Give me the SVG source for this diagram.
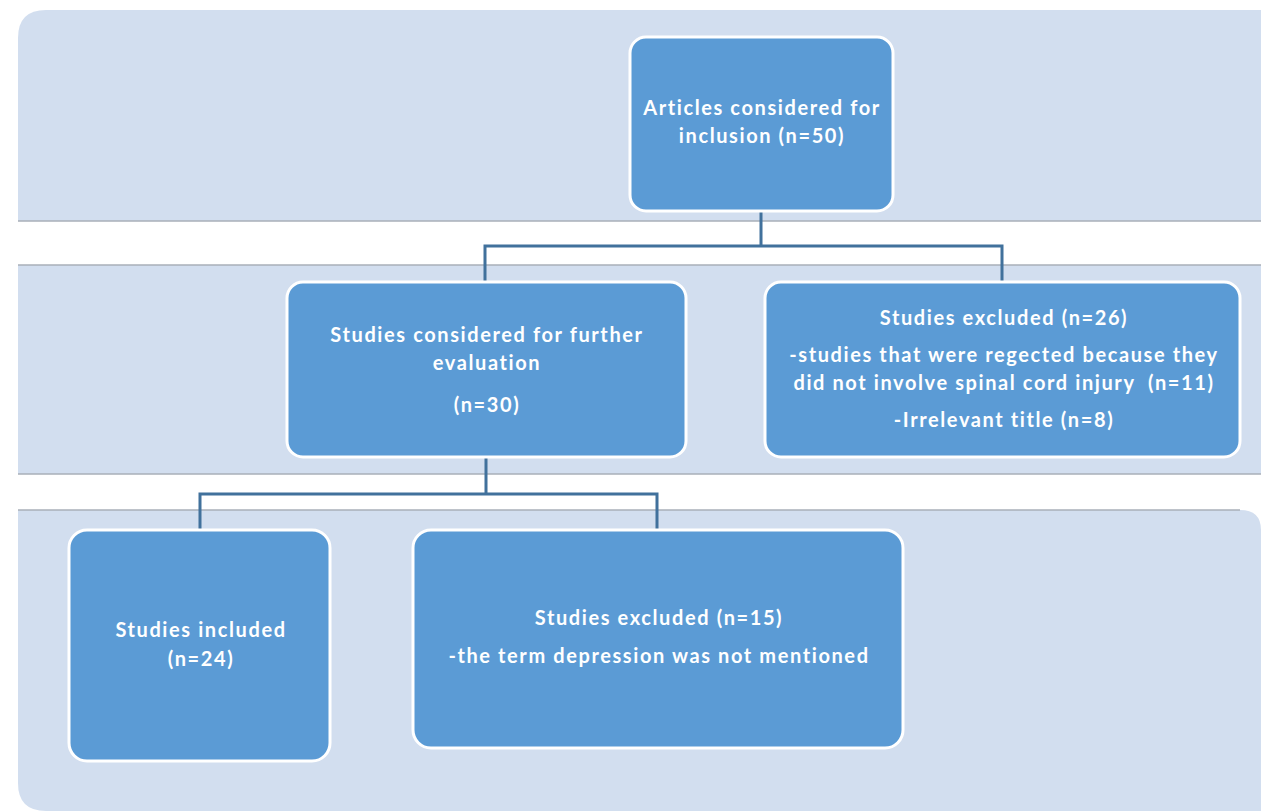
<svg xmlns="http://www.w3.org/2000/svg" width="1261" height="811" viewBox="0 0 1261 811">
<style>
.band{fill:#D2DEEF}
.sep{stroke:#A9AFB8;stroke-width:1.5;fill:none}
.box{fill:#5B9BD5;stroke:#FFFFFF;stroke-width:3}
.conn{stroke:#41719C;stroke-width:3;fill:none}
text{font-family:Lato,"Liberation Sans",sans-serif;font-size:20px;font-weight:bold;letter-spacing:1.6px;fill:#FFFFFF;text-anchor:middle;white-space:pre}
</style>
<rect width="1261" height="811" fill="#FFFFFF"/>
<g id="bands">
<path class="band" d="M18,221 V38 Q18,10 46,10 H1261 V221 Z"/>
<rect class="band" x="18" y="265" width="1243" height="209"/>
<path class="band" d="M18,510 H1240 Q1261,510 1261,530 V811 H46 Q18,811 18,783 Z"/>
<line class="sep" x1="18" y1="221" x2="1261" y2="221"/>
<line class="sep" x1="18" y1="265" x2="1261" y2="265"/>
<line class="sep" x1="18" y1="474" x2="1261" y2="474"/>
<line class="sep" x1="18" y1="510" x2="1240" y2="510"/>
</g>
<g id="connectors">
<path class="conn" d="M761,211 V246 M485,282 V246 H1002 V282"/>
<path class="conn" d="M486,457 V494 M200,530 V494 H657 V530"/>
</g>
<g id="n1">
<rect class="box" x="630" y="37" width="263" height="174" rx="16"/>
<text x="762" y="115">Articles considered for</text>
<text x="762" y="143">inclusion (n=50)</text>
</g>
<g id="n2">
<rect class="box" x="287" y="282" width="399" height="175" rx="16"/>
<text x="487" y="342">Studies considered for further</text>
<text x="487" y="370">evaluation</text>
<text x="487" y="412">(n=30)</text>
</g>
<g id="n3">
<rect class="box" x="765" y="282" width="475" height="175" rx="16"/>
<text x="1004" y="325">Studies excluded (n=26)</text>
<text x="1004" y="362">-studies that were regected because they</text>
<text x="1004" y="390" xml:space="preserve">did not involve spinal cord injury  (n=11)</text>
<text x="1004" y="427">-Irrelevant title (n=8)</text>
</g>
<g id="n4">
<rect class="box" x="69" y="530" width="261" height="231" rx="18"/>
<text x="201" y="637">Studies included</text>
<text x="201" y="666">(n=24)</text>
</g>
<g id="n5">
<rect class="box" x="413" y="530" width="490" height="218" rx="18"/>
<text x="659" y="625">Studies excluded (n=15)</text>
<text x="659" y="663">-the term depression was not mentioned</text>
</g>
</svg>
